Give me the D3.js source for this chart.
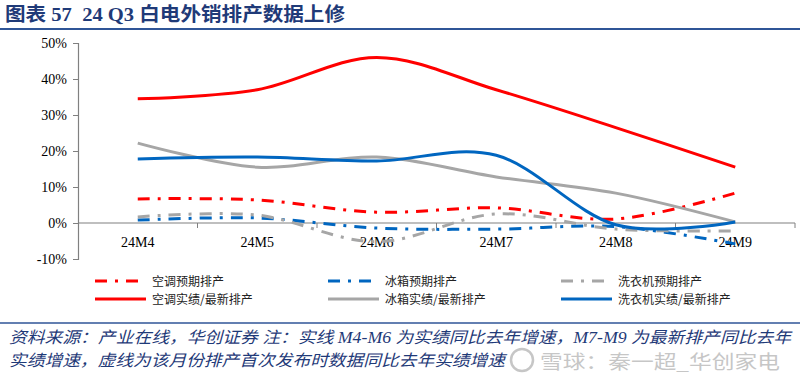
<!DOCTYPE html>
<html>
<head>
<meta charset="utf-8">
<script src="https://cdn.jsdelivr.net/npm/d3@7/dist/d3.min.js"></script>
<style>
  body { margin: 0; background: #fff; }
  svg { display: block; }
  .serif { font-family: "Liberation Serif", "Times New Roman", "Noto Sans CJK SC", serif; }
</style>
</head>
<body>
<div id="chart"></div>
<script>
// data (growth, %)
const months = ['24M4', '24M5', '24M6', '24M7', '24M8', '24M9'];
const acPlan = [6.7, 6.4, 3.0, 4.2, 1.1, 8.3];
const fridgePlan = [0.8, 1.4, -1.4, -1.7, -1.0, -5.8];
const washerPlan = [1.7, 2.2, -5.2, 2.5, -1.7, -2.2];
const acActual = [34.5, 37.0, 46.0, 37.0, 26.5, 15.5];
const fridgeActual = [22.2, 15.5, 18.3, 12.8, 8.3, 0.3];
const washerActual = [17.8, 18.3, 17.2, 18.8, -0.5, 0.3];
const yTicks = [-10, 0, 10, 20, 30, 40, 50];

const series = [
  { name: '空调预期排产', values: acPlan, color: '#ff0000', dash: true },
  { name: '冰箱预期排产', values: fridgePlan, color: '#0066c0', dash: true },
  { name: '洗衣机预期排产', values: washerPlan, color: '#a6a6a6', dash: true },
  { name: '空调实绩/最新排产', values: acActual, color: '#ff0000', dash: false },
  { name: '冰箱实绩/最新排产', values: fridgeActual, color: '#a6a6a6', dash: false },
  { name: '洗衣机实绩/最新排产', values: washerActual, color: '#0066c0', dash: false }
];

const W = 800, H = 382;
const navy = '#1f3a78';

const svg = d3.select('#chart').append('svg')
  .attr('width', W)
  .attr('height', H);

// title
svg.append('text')
  .attr('class', 'serif')
  .attr('x', 5).attr('y', 21)
  .attr('fill', navy)
  .attr('font-size', 19)
  .attr('font-weight', 'bold')
  .attr('xml:space', 'preserve')
  .style('white-space', 'pre')
  .attr('textLength', 340)
  .attr('lengthAdjust', 'spacingAndGlyphs')
  .text('图表 57  24 Q3 白电外销排产数据上修');

svg.append('line')
  .attr('x1', 0).attr('x2', W)
  .attr('y1', 29).attr('y2', 29)
  .attr('stroke', '#2f5597').attr('stroke-width', 2);

// scales
const x = d3.scaleBand().domain(months).range([78, 795]);
const y = d3.scaleLinear().domain([-10, 50]).range([259, 43]);
const cx = d => x(d) + x.bandwidth() / 2;

// y axis
const yAxis = svg.append('g')
  .attr('transform', 'translate(78,0)')
  .call(d3.axisLeft(y).tickValues(yTicks).tickSize(5).tickPadding(6).tickFormat(d => d + '%'));
yAxis.select('.domain').attr('stroke', '#808080').attr('stroke-width', 1.2);
yAxis.selectAll('.tick line').attr('stroke', '#808080');
yAxis.selectAll('.tick text')
  .attr('class', 'serif')
  .attr('font-size', 14)
  .attr('fill', '#000');

// x axis on the 0% line, ticks at band edges
const xg = svg.append('g').attr('transform', 'translate(0,' + y(0) + ')');
xg.append('line')
  .attr('x1', 78).attr('x2', 795)
  .attr('stroke', '#808080').attr('stroke-width', 1.2);
xg.selectAll('.edge')
  .data(months)
  .enter()
  .append('line')
  .attr('x1', d => x(d) + x.bandwidth())
  .attr('x2', d => x(d) + x.bandwidth())
  .attr('y1', 0).attr('y2', 5)
  .attr('stroke', '#808080');
xg.selectAll('.lbl')
  .data(months)
  .enter()
  .append('text')
  .attr('class', 'serif')
  .attr('x', d => cx(d))
  .attr('y', 24)
  .attr('text-anchor', 'middle')
  .attr('font-size', 14)
  .text(d => d);

// lines
const line = d3.line()
  .x((d, i) => cx(months[i]))
  .y(d => y(d))
  .curve(d3.curveCardinal.tension(0));

svg.append('g').selectAll('path')
  .data(series)
  .enter()
  .append('path')
  .attr('d', d => line(d.values))
  .attr('fill', 'none')
  .attr('stroke', d => d.color)
  .attr('stroke-width', 3)
  .attr('stroke-dasharray', d => d.dash ? '12,8,3,8' : null);

// legend
const legendX = [95, 328, 561];
const legendY = [281, 299];
const legend = svg.append('g');
legend.selectAll('g')
  .data(series)
  .enter()
  .append('g')
  .each((d, i, n) => {
    const g = d3.select(n[i]);
    const lx = legendX[i % 3], ly = legendY[Math.floor(i / 3)];
    g.append('line')
      .attr('x1', lx).attr('x2', lx + 51)
      .attr('y1', ly).attr('y2', ly)
      .attr('stroke', d.color)
      .attr('stroke-width', 3)
      .attr('stroke-dasharray', d.dash ? '12,8,3,8' : null);
    g.append('text')
      .attr('x', lx + 57).attr('y', ly + 4.5)
      .attr('font-family', '"Noto Sans CJK SC", sans-serif')
      .attr('font-size', 12)
      .attr('fill', '#222')
      .text(d.name);
  });

// footer
svg.append('line')
  .attr('x1', 0).attr('x2', W)
  .attr('y1', 323).attr('y2', 323)
  .attr('stroke', '#2f5597').attr('stroke-width', 1.5);

const notes = [
  '资料来源：产业在线，华创证券 注：实线 M4-M6 为实绩同比去年增速，M7-M9 为最新排产同比去年',
  '实绩增速，虚线为该月份排产首次发布时数据同比去年实绩增速'
];
svg.selectAll('.note')
  .data(notes)
  .enter()
  .append('text')
  .attr('class', 'serif')
  .attr('x', 9)
  .attr('y', (d, i) => 343 + i * 23)
  .attr('font-size', 16)
  .attr('font-style', 'italic')
  .attr('fill', navy)
  .attr('textLength', (d, i) => i === 0 ? 782 : 496)
  .attr('lengthAdjust', 'spacingAndGlyphs')
  .text(d => d);

// watermark
const wm = svg.append('g').attr('opacity', 0.55);
wm.append('circle')
  .attr('cx', 522).attr('cy', 360).attr('r', 11)
  .attr('fill', 'none').attr('stroke', '#999').attr('stroke-width', 2.5);
wm.append('text')
  .attr('x', 540).attr('y', 369)
  .attr('font-family', '"Noto Sans CJK SC", sans-serif')
  .attr('font-size', 19)
  .attr('fill', '#999')
  .attr('textLength', 240)
  .attr('lengthAdjust', 'spacingAndGlyphs')
  .text('雪球：秦一超_华创家电');
</script>
</body>
</html>
